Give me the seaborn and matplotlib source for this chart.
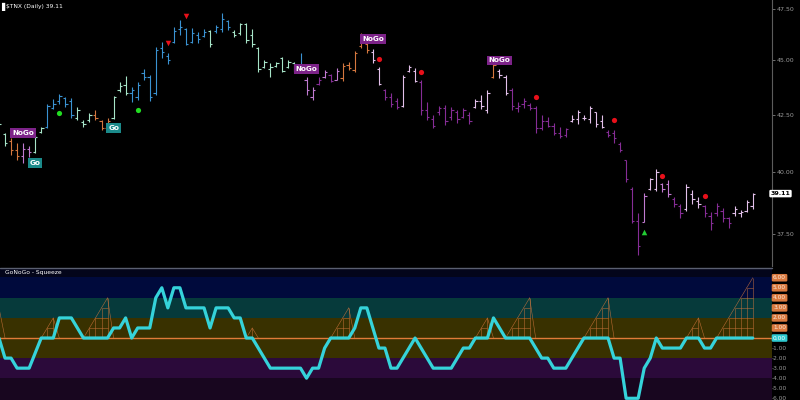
import numpy as np
import matplotlib
matplotlib.use("Agg")
import matplotlib.pyplot as plt
import seaborn as sns
from matplotlib.ticker import FixedLocator, NullLocator, NullFormatter, FuncFormatter
from matplotlib.lines import Line2D

sns.set_theme(style="dark", rc={"axes.facecolor": "black", "figure.facecolor": "black"})
plt.rcParams["font.family"] = ["DejaVu Sans"]

# ---------------- data ----------------
high = [42.26, 41.70, 41.45, 41.25, 41.25, 41.10, 41.60, 41.95, 42.98, 43.20,
        43.43, 43.30, 43.25, 42.85, 42.26, 42.58, 42.70, 42.26, 42.35, 43.35,
        43.99, 44.27, 43.76, 43.99, 44.60, 44.31, 45.63, 45.87, 45.35, 46.60,
        46.95, 46.55, 46.55, 46.36, 46.50, 46.46, 46.70, 47.30, 46.95, 46.46,
        46.80, 46.80, 46.50, 45.64, 45.02, 44.88, 44.92, 45.16, 45.02, 44.92,
        45.35, 44.22, 43.76, 44.22, 44.55, 44.36, 44.64, 44.88, 44.92, 45.44,
        46.31, 45.87, 45.54, 44.69, 43.67, 43.48, 43.25, 44.31, 44.78, 44.64,
        44.08, 43.07, 42.49, 42.89, 42.94, 42.85, 42.71, 42.80, 42.62, 43.20,
        43.39, 43.62, 44.92, 44.60, 44.31, 43.71, 43.07, 43.25, 43.03, 42.89,
        42.49, 42.40, 42.13, 41.95, 41.90, 42.49, 42.71, 42.49, 42.89, 42.62,
        42.49, 41.82, 41.82, 41.29, 40.52, 39.38, 38.32, 39.14, 39.76, 40.15,
        39.55, 39.68, 38.98, 38.69, 39.51, 39.26, 38.98, 38.65, 38.36, 38.73,
        38.53, 38.16, 38.61, 38.44, 38.85, 39.14]
low = [42.04, 41.10, 40.75, 40.50, 40.40, 40.65, 40.80, 41.70, 41.90, 42.75,
       43.00, 42.85, 42.35, 42.26, 41.95, 42.17, 42.26, 41.82, 41.82, 42.30,
       43.53, 43.39, 43.07, 43.16, 44.08, 43.12, 43.39, 45.10, 44.83, 45.83,
       46.21, 45.73, 45.83, 45.83, 46.10, 45.64, 46.31, 46.36, 46.46, 46.10,
       46.21, 45.83, 45.64, 44.45, 44.64, 44.22, 44.69, 44.45, 44.64, 44.45,
       44.45, 43.39, 43.16, 43.85, 44.17, 43.99, 44.08, 44.03, 44.55, 44.45,
       45.59, 45.35, 44.88, 43.85, 43.16, 42.85, 42.75, 42.85, 44.45, 43.99,
       42.49, 42.26, 41.90, 42.49, 42.04, 42.26, 42.13, 42.35, 42.08, 42.80,
       42.75, 42.58, 44.17, 44.17, 43.39, 42.71, 42.62, 42.80, 42.71, 41.69,
       41.82, 41.95, 41.60, 41.47, 41.51, 42.17, 42.08, 42.26, 42.13, 41.95,
       41.90, 41.51, 41.25, 40.86, 39.60, 37.92, 36.67, 37.96, 39.26, 39.22,
       39.18, 38.98, 38.57, 38.12, 38.40, 38.69, 38.53, 38.16, 37.64, 38.20,
       37.96, 37.72, 38.20, 38.16, 38.36, 38.48]
open_ = [42.20, 41.65, 41.35, 40.95, 40.70, 41.00, 40.85, 41.75, 41.95, 42.80,
         43.10, 43.25, 43.10, 42.35, 42.15, 42.25, 42.50, 42.20, 41.90, 42.35,
         43.60, 43.85, 43.50, 43.30, 44.40, 44.20, 43.50, 45.60, 45.20, 45.90,
         46.50, 46.50, 45.90, 46.20, 46.15, 46.40, 46.40, 46.50, 46.90, 46.35,
         46.30, 46.75, 46.20, 45.60, 44.70, 44.60, 44.75, 45.10, 44.70, 44.85,
         44.60, 44.10, 43.30, 43.90, 44.20, 44.30, 44.10, 44.15, 44.80, 44.55,
         45.70, 45.80, 45.40, 44.60, 43.60, 43.30, 43.10, 42.90, 44.50, 44.50,
         44.00, 42.70, 42.30, 42.60, 42.80, 42.40, 42.60, 42.40, 42.50, 42.85,
         43.10, 42.70, 44.20, 44.50, 44.20, 43.60, 42.80, 43.00, 42.95, 42.80,
         41.90, 42.20, 42.00, 41.70, 41.60, 42.20, 42.30, 42.35, 42.30, 42.60,
         42.20, 41.75, 41.70, 41.20, 40.50, 39.30, 38.00, 37.95, 39.30, 39.30,
         39.50, 39.50, 38.90, 38.60, 38.50, 39.10, 38.80, 38.60, 38.20, 38.30,
         38.40, 38.10, 38.30, 38.30, 38.40, 38.60]
close = [42.10, 41.25, 40.95, 40.70, 41.00, 40.85, 41.50, 41.90, 42.90, 43.00,
         43.35, 43.00, 42.50, 42.70, 42.10, 42.50, 42.35, 41.90, 42.20, 43.30,
         43.80, 43.50, 43.60, 43.85, 44.20, 43.30, 45.50, 45.40, 45.00, 46.40,
         46.60, 45.80, 46.30, 46.00, 46.35, 45.80, 46.60, 47.00, 46.60, 46.20,
         46.75, 45.95, 45.80, 44.60, 44.90, 44.70, 44.85, 44.50, 44.90, 44.60,
         44.80, 43.60, 43.60, 44.10, 44.45, 44.05, 44.50, 44.75, 44.65, 45.35,
         46.20, 45.50, 45.00, 43.90, 43.30, 43.00, 42.85, 44.20, 44.70, 44.05,
         42.70, 42.40, 42.00, 42.80, 42.20, 42.70, 42.30, 42.70, 42.20, 43.10,
         42.90, 43.50, 44.80, 44.30, 43.50, 42.90, 42.90, 43.10, 42.80, 41.90,
         42.20, 42.00, 41.70, 41.55, 41.85, 42.30, 42.60, 42.35, 42.80, 42.10,
         41.95, 41.60, 41.45, 40.95, 39.70, 38.00, 37.00, 39.00, 39.70, 40.00,
         39.30, 39.10, 38.70, 38.30, 39.40, 38.90, 38.70, 38.30, 37.90, 38.60,
         38.10, 37.90, 38.50, 38.35, 38.75, 39.11]
trend = ("MMOOLLMMBB" "BBBMMMOOOM" "MMBBBBBBBB" "BBBBBMBBBM" "MMMMMMMMMM"
         "BLLDLDLOOO" "OOWWDDDWWW" "DDDDDDDDDW" "WWOWWDDDDD" "DDDDDWWWWW"
         "WDDDDDDLWW" "LLDDWWWDDD" "DDWWWW")

oscillator = [0, -2, -2, -3, -3, -3, -1.5, 0, 0, 0,
              2, 2, 2, 1, 0, 0, 0, 0, 0, 1,
              1, 2, 0, 1, 1, 1, 4, 5, 3, 5,
              5, 3, 3, 3, 3, 1, 3, 3, 3, 2,
              2, 0, 0, -1, -2, -3, -3, -3, -3, -3,
              -3, -4, -3, -3, -1, 0, 0, 0, 0, 1,
              3, 3, 1, -1, -1, -3, -3, -2, -1, 0,
              -1, -2, -3, -3, -3, -3, -2, -1, -1, 0,
              0, 0, 2, 1, 0, 0, 0, 0, 0, -1,
              -2, -2, -3, -3, -3, -2, -1, 0, 0, 0,
              0, 0, -2, -2, -6, -6, -6, -3, -2, 0,
              -1, -1, -1, -1, 0, 0, 0, -1, -1, 0,
              0, 0, 0, 0, 0, 0]
squeeze = [3, 0, 0, 0, 0, 0, 0, 0, 1, 2,
           0, 0, 0, 0, 0, 1, 2, 3, 4, 0,
           0, 0, 0, 0, 0, 0, 0, 0, 0, 0,
           0, 0, 0, 0, 0, 0, 0, 0, 0, 0,
           0, 0, 1, 0, 0, 0, 0, 0, 0, 0,
           0, 0, 0, 0, 0, 0, 1, 2, 3, 0,
           0, 0, 0, 0, 0, 0, 0, 0, 0, 0,
           0, 0, 0, 0, 0, 0, 0, 0, 0, 0,
           1, 2, 0, 0, 0, 1, 2, 3, 4, 0,
           0, 0, 0, 0, 0, 0, 0, 0, 1, 2,
           3, 4, 0, 0, 0, 0, 0, 0, 0, 0,
           0, 0, 0, 0, 0, 1, 2, 0, 0, 0,
           1, 2, 3, 4, 5, 6]

price_ticks = [37.5, 40.0, 42.5, 45.0, 47.5]
osc_ticks = [6, 5, 4, 3, 2, 1, 0, -1, -2, -3, -4, -5, -6]

green_dot_bar = [10, 23]
green_dot_price = [42.58, 42.71]
red_dot_bar = [63, 70, 89, 102, 110, 117]
red_dot_price = [45.07, 44.47, 43.31, 42.26, 39.86, 39.00]
red_tri_bar = [28, 31]
red_tri_price = [45.83, 47.15]
green_tri_bar = [107]
green_tri_price = [37.56]

signal_text = ["NoGo", "Go", "Go", "NoGo", "NoGo", "NoGo"]
signal_bar = [4.0, 6.0, 19.0, 51.0, 62.0, 83.0]
signal_price = [41.69, 40.39, 41.91, 44.60, 46.03, 45.00]

title = "\\$TNX (Daily) 39.11"
last_price = "39.11"

# ---------------- styling ----------------
pal = {"B": "#3a92d2", "M": "#a6e4c8", "O": "#d5773e",
       "L": "#c07ad0", "D": "#862d96", "W": "#e2c0ea"}
bar_colors = [pal[c] for c in trend]
n = len(high)
idx = np.arange(n)
XL = (0.166, 128.19)

fig = plt.figure(figsize=(8, 4), dpi=100)
fig.patch.set_facecolor("black")

# ---------------- price panel ----------------
ax = fig.add_axes([0, 134 / 400, 772 / 800, 266 / 400])
ax.set_facecolor("black")
ax.vlines(idx, low, high, colors=bar_colors, lw=0.8)
ax.hlines(open_, idx - 0.38, idx, colors=bar_colors, lw=0.8)
ax.hlines(close, idx, idx + 0.38, colors=bar_colors, lw=0.8)

sns.scatterplot(x=green_dot_bar, y=green_dot_price, ax=ax, color="#22dd22",
                s=14, marker="o", linewidth=0, legend=False, zorder=5)
sns.scatterplot(x=red_dot_bar, y=red_dot_price, ax=ax, color="#e8101a",
                s=14, marker="o", linewidth=0, legend=False, zorder=5)
sns.scatterplot(x=red_tri_bar, y=red_tri_price, ax=ax, color="#e8101a",
                s=16, marker="v", linewidth=0, legend=False, zorder=5)
sns.scatterplot(x=green_tri_bar, y=green_tri_price, ax=ax, color="#22cc33",
                s=16, marker="^", linewidth=0, legend=False, zorder=5)

for t, b, p in zip(signal_text, signal_bar, signal_price):
    fc = "#7d2389" if t == "NoGo" else "#1b8a8a"
    ax.text(b, p, t, color="white", fontsize=5.2, fontweight="bold",
            ha="center", va="center", zorder=6,
            bbox=dict(boxstyle="square,pad=0.25", fc=fc, ec="none"))

ax.set_yscale("log")
ax.set_ylim(36.24, 47.95)
ax.set_xlim(*XL)
ax.yaxis.set_major_locator(FixedLocator(price_ticks))
ax.yaxis.set_minor_locator(NullLocator())
ax.yaxis.set_major_formatter(FuncFormatter(lambda v, p: f"{v:.2f}"))
ax.yaxis.set_minor_formatter(NullFormatter())
ax.yaxis.tick_right()
ax.tick_params(axis="y", colors="#9a9a9a", labelsize=4.5, length=2, width=0.5, pad=1.5)
ax.set_xticks([])
for s in ["top", "left", "bottom"]:
    ax.spines[s].set_visible(False)
ax.spines["right"].set_color("#5c5c5c")
ax.spines["right"].set_linewidth(0.8)
ax.grid(False)
ax.text(1.011, close[-1], last_price, transform=ax.get_yaxis_transform(),
        color="black", fontsize=4.5, fontweight="bold", ha="center", va="center",
        clip_on=False, zorder=7,
        bbox=dict(boxstyle="round,pad=0.2", fc="white", ec="none"))

fig.text(1 / 800, 1 - 6.5 / 400, "\u258C", color="white", fontsize=6, va="center", ha="left")
fig.text(6 / 800, 1 - 6.5 / 400, title, color="white", fontsize=4.3, va="center", ha="left")

# ---------------- squeeze panel ----------------
ax2 = fig.add_axes([0, 0, 772 / 800, 132 / 400])
ax2.set_facecolor("black")
bands = [(6.05, 7.5, "#03051a"), (4, 6.05, "#000a3c"), (2, 4, "#063a3b"),
         (-2, 2, "#393100"), (-4, -2, "#2b0a3a"), (-7, -4, "#18061f")]
for lo_, hi_, c in bands:
    ax2.axhspan(lo_, hi_, color=c, lw=0, zorder=0)

net_c = "#d9793f"
net_kw = dict(lw=0.4, alpha=0.8, zorder=2)
sq = np.array(squeeze, dtype=float)
for j in range(n):
    if sq[j] > 0:
        ax2.vlines(j, 0, sq[j], colors=net_c, **net_kw)
    if j > 0 and (sq[j] > 0 or sq[j - 1] > 0):
        ax2.plot([j - 1, j], [sq[j - 1], sq[j]], color=net_c, **net_kw)
    if j < n - 1:
        for k in range(1, int(min(sq[j], sq[j + 1])) + 1):
            ax2.hlines(k, j, j + 1, colors=net_c, **net_kw)

ax2.axhline(0, color="#e07b39", lw=1.0, zorder=3)
sns.lineplot(x=idx, y=oscillator, ax=ax2, color="#35d3da", lw=2.3, zorder=4)

ax2.set_xlim(*XL)
ax2.set_ylim(-6.17, 6.97)
ax2.set_xticks([])
ax2.set_yticks([])
ax2.set_xlabel("")
ax2.set_ylabel("")
for s in ["top", "left", "bottom", "right"]:
    ax2.spines[s].set_visible(False)
ax2.grid(False)

ytr = ax2.get_yaxis_transform()
for v in osc_ticks:
    lab = f"{v:.2f}"
    if v > 0:
        ax2.text(1.0098, v, lab, transform=ytr, color="#fde8d8", fontsize=4.2,
                 ha="center", va="center", clip_on=False,
                 bbox=dict(boxstyle="round,pad=0.22", fc="#d9793f", ec="none"))
    elif v == 0:
        ax2.text(1.0098, v, lab, transform=ytr, color="white", fontsize=4.2,
                 ha="center", va="center", clip_on=False,
                 bbox=dict(boxstyle="round,pad=0.22", fc="#2fc9d0", ec="none"))
    else:
        ax2.text(1.0098, v, lab, transform=ytr, color="#9a9a9a", fontsize=4.2,
                 ha="center", va="center", clip_on=False)

fig.text(5 / 800, 1 - 272.5 / 400, "GoNoGo - Squeeze", color="white",
         fontsize=4.3, va="center", ha="left")
fig.add_artist(Line2D([0, 772 / 800], [1 - 267.5 / 400] * 2, color="#5a5f70", lw=1.0))

fig.savefig("out.png", dpi=100, facecolor="black")
